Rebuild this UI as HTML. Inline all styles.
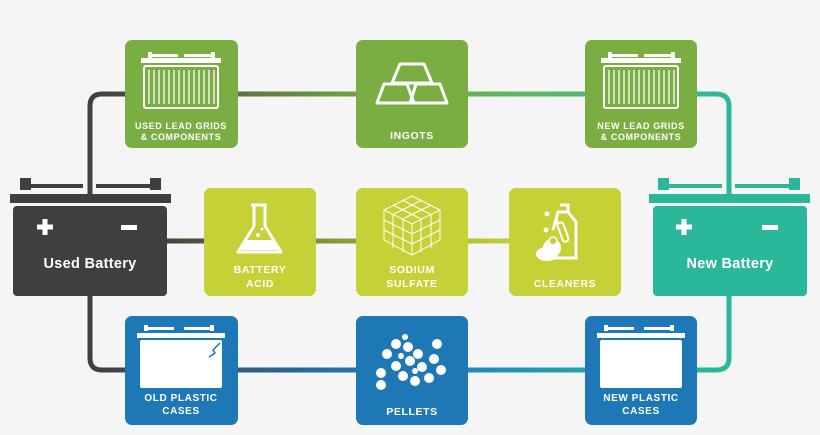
<!DOCTYPE html>
<html><head><meta charset="utf-8"><style>
html,body{margin:0;padding:0;background:#f5f5f5;}
svg{display:block}
text{font-family:"Liberation Sans",sans-serif;font-weight:bold;fill:#fff;text-anchor:middle}
.s{font-size:9px;letter-spacing:0.6px}
.m{font-size:10.5px;letter-spacing:0.6px}
</style></head><body>
<svg width="820" height="435" viewBox="0 0 820 435" xmlns="http://www.w3.org/2000/svg">
<defs>
<linearGradient id="gt" x1="88" x2="730" gradientUnits="userSpaceOnUse"><stop offset="0" stop-color="#3f3f3f"/><stop offset="0.45" stop-color="#76a844"/><stop offset="0.7" stop-color="#5cb866"/><stop offset="1" stop-color="#2bb89a"/></linearGradient>
<linearGradient id="gm" x1="160" x2="520" gradientUnits="userSpaceOnUse"><stop offset="0" stop-color="#3f3f3f"/><stop offset="0.5" stop-color="#8c9a3a"/><stop offset="1" stop-color="#c5d136"/></linearGradient>
<linearGradient id="gb" x1="88" x2="730" gradientUnits="userSpaceOnUse"><stop offset="0" stop-color="#3f3f3f"/><stop offset="0.45" stop-color="#1f78b6"/><stop offset="0.75" stop-color="#239fae"/><stop offset="1" stop-color="#2bb89a"/></linearGradient>
</defs>
<g fill="none" stroke-width="5">
<path d="M90 200 V106 Q90 94 102 94 H716 Q729 94 729 106 V200" stroke="url(#gt)"/>
<path d="M160 241 H520" stroke="url(#gm)"/>
<path d="M90 290 V358 Q90 370 102 370 H716 Q729 370 729 358 V290" stroke="url(#gb)"/>
</g>
<rect x="125" y="40" width="113" height="108" rx="7" fill="#7aad42"/>
<rect x="356" y="40" width="112" height="108" rx="7" fill="#7aad42"/>
<rect x="585" y="40" width="112" height="108" rx="7" fill="#7aad42"/>
<g fill="none" stroke="#fff" stroke-width="2">
<rect x="144" y="66" width="74" height="42" rx="2"/>
<rect x="604" y="66" width="74" height="42" rx="2"/>
</g>
<g fill="#fff">
<rect x="141" y="58" width="80" height="5"/><rect x="148" y="52" width="4" height="6"/><rect x="148" y="54" width="30" height="3"/><rect x="184" y="54" width="30" height="3"/><rect x="211" y="52" width="4" height="6"/>
<rect x="601" y="58" width="80" height="5"/><rect x="608" y="52" width="4" height="6"/><rect x="608" y="54" width="30" height="3"/><rect x="644" y="54" width="30" height="3"/><rect x="671" y="52" width="4" height="6"/>
</g>
<g stroke="#fff" stroke-width="1.3">
<path d="M149 70V104M154 70V104M159 70V104M164 70V104M169 70V104M174 70V104M179 70V104M184 70V104M189 70V104M194 70V104M199 70V104M204 70V104M209 70V104M214 70V104"/>
<path d="M609 70V104M614 70V104M619 70V104M624 70V104M629 70V104M634 70V104M639 70V104M644 70V104M649 70V104M654 70V104M659 70V104M664 70V104M669 70V104M674 70V104"/>
</g>
<g fill="none" stroke="#fff" stroke-width="3" stroke-linejoin="round">
<path d="M400 64 L424 64 L432 83 L392 83 Z"/>
<path d="M384 84 L407 84 L414 103 L377 103 Z"/>
<path d="M416 84 L440 84 L447 103 L410 103 Z"/>
</g>
<text class="s" x="181" y="129">USED LEAD GRIDS</text><text class="s" x="181" y="140">&amp; COMPONENTS</text>
<text class="m" x="412" y="139">INGOTS</text>
<text class="s" x="641" y="129">NEW LEAD GRIDS</text><text class="s" x="641" y="140">&amp; COMPONENTS</text>
<rect x="20" y="178" width="11" height="12" fill="#3f3f3f"/><rect x="20" y="184" width="63" height="4" fill="#3f3f3f"/>
<rect x="150" y="178" width="11" height="12" fill="#3f3f3f"/><rect x="96" y="184" width="65" height="4" fill="#3f3f3f"/>
<rect x="10" y="194" width="161" height="9" fill="#3f3f3f"/>
<rect x="13" y="206" width="154" height="90" rx="4" fill="#3f3f3f"/>
<path d="M37 227 H53 M45 219 V235" stroke="#fff" stroke-width="5"/><rect x="121" y="225" width="16" height="5" fill="#fff"/>
<text x="90" y="268" style="font-size:14.5px;letter-spacing:0.3px">Used Battery</text>
<rect x="658" y="178" width="11" height="12" fill="#2bb89a"/><rect x="658" y="184" width="64" height="4" fill="#2bb89a"/>
<rect x="789" y="178" width="11" height="12" fill="#2bb89a"/><rect x="735" y="184" width="65" height="4" fill="#2bb89a"/>
<rect x="649" y="194" width="161" height="9" fill="#2bb89a"/>
<rect x="653" y="206" width="154" height="90" rx="4" fill="#2bb89a"/>
<path d="M676 227 H692 M684 219 V235" stroke="#fff" stroke-width="5"/><rect x="762" y="225" width="16" height="5" fill="#fff"/>
<text x="730" y="268" style="font-size:14.5px;letter-spacing:0.3px">New Battery</text>
<rect x="204" y="188" width="112" height="108" rx="7" fill="#c5d136"/>
<rect x="356" y="188" width="112" height="108" rx="7" fill="#c5d136"/>
<rect x="509" y="188" width="112" height="108" rx="7" fill="#c5d136"/>
<path d="M251 205 H267 M254 205 V226 L238 252 H281 L265 226 V205" fill="none" stroke="#fff" stroke-width="3" stroke-linejoin="round"/>
<path d="M246 240 L273 240 L280 250 L239 250Z" fill="#fff"/>
<circle cx="258" cy="235" r="2" fill="#fff"/><circle cx="262" cy="229" r="1.5" fill="#fff"/>
<g fill="none" stroke="#fff" stroke-width="1">
<path d="M412 196 L440 210 L440 240 L412 255 L384 240 L384 210 Z M384 210 L412 224 L440 210 M412 224 V255"/>
<path d="M393 205 L421 219 M402 200 L430 214 M431 205 L403 219 M422 200 L394 214 M384 220 L412 234 L440 220 M384 230 L412 244 L440 230 M393 215 V248 M403 219 V252 M421 219 V252 M431 215 V248"/>
</g>
<path d="M560 205 L568 205 L568 212 L576 222 V258 H553" fill="none" stroke="#fff" stroke-width="3"/>
<path d="M553 230 L558 212 L570 212" fill="none" stroke="#fff" stroke-width="3"/>
<rect x="560" y="222" width="6" height="20" rx="3" fill="none" stroke="#fff" stroke-width="2" transform="rotate(-20 563 232)"/>
<circle cx="552" cy="248" r="9" fill="#fff"/><ellipse cx="547" cy="254" rx="11" ry="7" fill="#fff"/>
<circle cx="553" cy="241" r="4" fill="#c5d136" stroke="#fff" stroke-width="1.5"/>
<circle cx="547" cy="214" r="2.5" fill="#fff"/><circle cx="556" cy="222" r="2.5" fill="#fff"/><circle cx="546" cy="230" r="2.5" fill="#fff"/>
<text class="m" x="260" y="273">BATTERY</text><text class="m" x="260" y="287">ACID</text>
<text class="m" x="412" y="273">SODIUM</text><text class="m" x="412" y="287">SULFATE</text>
<text class="m" x="565" y="287">CLEANERS</text>
<rect x="125" y="316" width="113" height="109" rx="7" fill="#1f78b6"/>
<rect x="356" y="316" width="112" height="109" rx="7" fill="#1f78b6"/>
<rect x="585" y="316" width="112" height="109" rx="7" fill="#1f78b6"/>
<g fill="#fff">
<rect x="137" y="333" width="88" height="5"/><rect x="144" y="325" width="4" height="6"/><rect x="144" y="327" width="30" height="3"/><rect x="184" y="327" width="30" height="3"/><rect x="210" y="325" width="4" height="6"/>
<rect x="140" y="340" width="82" height="48" rx="2"/>
<rect x="597" y="333" width="88" height="5"/><rect x="604" y="325" width="4" height="6"/><rect x="604" y="327" width="30" height="3"/><rect x="644" y="327" width="30" height="3"/><rect x="670" y="325" width="4" height="6"/>
<rect x="600" y="340" width="82" height="48" rx="2"/>
</g>
<path d="M220 343 L213 350 L215 353 L209 357" stroke="#1f78b6" stroke-width="1.5" fill="none"/>
<g fill="#fff">
<circle cx="396" cy="344" r="5"/><circle cx="405" cy="337" r="3"/><circle cx="408" cy="347" r="5"/><circle cx="437" cy="344" r="5"/>
<circle cx="387" cy="354" r="5"/><circle cx="418" cy="354" r="5"/><circle cx="434" cy="359" r="5"/><circle cx="401" cy="356" r="3"/>
<circle cx="396" cy="366" r="5"/><circle cx="410" cy="361" r="5"/><circle cx="422" cy="367" r="5"/><circle cx="441" cy="370" r="5"/><circle cx="415" cy="371" r="3"/>
<circle cx="381" cy="373" r="5"/><circle cx="403" cy="376" r="5"/><circle cx="429" cy="378" r="5"/><circle cx="415" cy="381" r="5"/><circle cx="381" cy="385" r="5"/>
</g>
<text class="s" x="181" y="401" style="font-size:10px">OLD PLASTIC</text><text class="s" x="181" y="414" style="font-size:10px">CASES</text>
<text class="m" x="412" y="415">PELLETS</text>
<text class="s" x="641" y="401" style="font-size:10px">NEW PLASTIC</text><text class="s" x="641" y="414" style="font-size:10px">CASES</text>
</svg>
</body></html>
